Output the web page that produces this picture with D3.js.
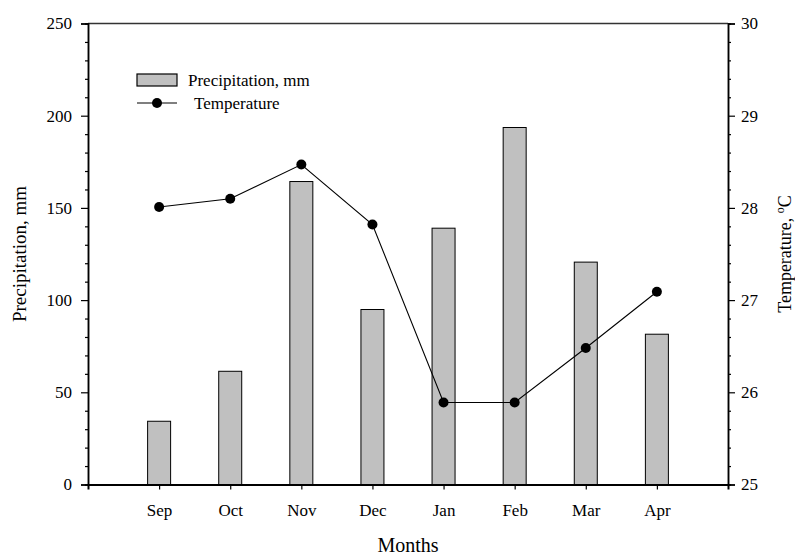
<!DOCTYPE html>
<html>
<head>
<meta charset="utf-8">
<script src="https://cdn.jsdelivr.net/npm/d3@7"></script>
<style>
  body { margin: 0; background: #fff; }
  text { font-family: "Liberation Serif", "DejaVu Serif", serif; fill: #000; }
</style>
</head>
<body>
<svg id="chart" width="795" height="556"></svg>
<script>
const months = ["Sep", "Oct", "Nov", "Dec", "Jan", "Feb", "Mar", "Apr"];
const precipitation = [34.3, 61.4, 164.3, 94.9, 139, 193.6, 120.6, 81.5];
const temperature = [28.01, 28.1, 28.47, 27.82, 25.89, 25.89, 26.48, 27.09];
const precipTicks = [0, 50, 100, 150, 200, 250];
const tempTicks = [25, 26, 27, 28, 29, 30];

const svg = d3.select("#chart"),
      margin = { top: 23.5, right: 67, bottom: 71.5, left: 88 },
      width = +svg.attr("width") - margin.left - margin.right,
      height = +svg.attr("height") - margin.top - margin.bottom;

const g = svg.append("g").attr("transform", `translate(${margin.left},${margin.top})`);

const x = d3.scaleLinear().domain([0, months.length + 1]).range([0, width]);
const yP = d3.scaleLinear().domain([0, 250]).range([height, 0]);
const yT = d3.scaleLinear().domain([25, 30]).range([height, 0]);
const barW = 23;

// bars
g.selectAll(".bar")
  .data(precipitation)
  .enter()
  .append("rect")
  .attr("class", "bar")
  .attr("x", (d, i) => x(i + 1) - barW / 2)
  .attr("y", d => yP(d))
  .attr("width", barW)
  .attr("height", d => height - yP(d))
  .attr("fill", "#c0c0c0")
  .attr("stroke", "#000")
  .attr("stroke-width", 1);

// temperature line
const line = d3.line().x((d, i) => x(i + 1)).y(d => yT(d));
g.append("path")
  .attr("d", line(temperature))
  .attr("fill", "none")
  .attr("stroke", "#000")
  .attr("stroke-width", 1.1);

g.selectAll(".pt")
  .data(temperature)
  .enter()
  .append("circle")
  .attr("class", "pt")
  .attr("cx", (d, i) => x(i + 1))
  .attr("cy", d => yT(d))
  .attr("r", 5)
  .attr("fill", "#000");

// frame top
g.append("line")
  .attr("x1", 0).attr("x2", width)
  .attr("y1", 0).attr("y2", 0)
  .attr("stroke", "#333").attr("stroke-width", 1.5);

// left axis
const leftAxis = g.append("g")
  .call(d3.axisLeft(yP).tickValues(precipTicks).tickSize(7).tickPadding(9));
leftAxis.append("g")
  .call(d3.axisLeft(yP).tickValues(d3.range(0, 251, 10).filter(v => v % 50 !== 0)).tickSize(3).tickFormat(""));

// right axis
const rightAxis = g.append("g")
  .attr("transform", `translate(${width},0)`)
  .call(d3.axisRight(yT).tickValues(tempTicks).tickSize(7).tickPadding(6).tickFormat(d3.format("d")));
rightAxis.append("g")
  .call(d3.axisRight(yT).tickValues(d3.range(25, 30.01, 0.2).filter(v => Math.abs(v - Math.round(v)) > 0.01)).tickSize(3).tickFormat(""));

// bottom axis
const bottomAxis = g.append("g")
  .attr("transform", `translate(0,${height})`)
  .call(d3.axisBottom(x).tickValues(d3.range(1, months.length + 1)).tickSize(5).tickPadding(14)
    .tickFormat(d => months[d - 1]));

[leftAxis, rightAxis, bottomAxis].forEach(a => {
  a.attr("font-size", null).attr("font-family", null);
  a.selectAll("path.domain").attr("stroke", "#000").attr("stroke-width", 1.5);
  a.selectAll("line").attr("stroke", "#000").attr("stroke-width", 1.2);
  a.selectAll("text").style("font-size", "17px").style("font-family", "'Liberation Serif', serif");
});
bottomAxis.select("path.domain").attr("stroke-width", 2);

// axis titles
svg.append("text")
  .attr("x", margin.left + width / 2)
  .attr("y", 552)
  .attr("text-anchor", "middle")
  .style("font-size", "20px")
  .text("Months");

svg.append("text")
  .attr("transform", "rotate(-90)")
  .attr("x", -(margin.top + height / 2))
  .attr("y", 26)
  .attr("text-anchor", "middle")
  .style("font-size", "19px")
  .text("Precipitation, mm");

const rt = svg.append("text")
  .attr("transform", "rotate(-90)")
  .attr("x", -(margin.top + height / 2))
  .attr("y", 791)
  .attr("text-anchor", "middle")
  .style("font-size", "18px");
rt.append("tspan").text("Temperature, ");
rt.append("tspan").attr("baseline-shift", "super").style("font-size", "12px").text("o");
rt.append("tspan").text("C");

// legend
const legend = svg.append("g").attr("transform", "translate(137,74)");
legend.append("rect")
  .attr("x", 0).attr("y", 0)
  .attr("width", 40).attr("height", 12)
  .attr("fill", "#c0c0c0").attr("stroke", "#000").attr("stroke-width", 1.2);
legend.append("text")
  .attr("x", 51).attr("y", 12)
  .style("font-size", "17px")
  .text("Precipitation, mm");
legend.append("line")
  .attr("x1", 0).attr("x2", 40)
  .attr("y1", 29).attr("y2", 29)
  .attr("stroke", "#000").attr("stroke-width", 1.1);
legend.append("circle")
  .attr("cx", 20).attr("cy", 29).attr("r", 5).attr("fill", "#000");
legend.append("text")
  .attr("x", 57).attr("y", 35)
  .style("font-size", "17px")
  .text("Temperature");
</script>
</body>
</html>
